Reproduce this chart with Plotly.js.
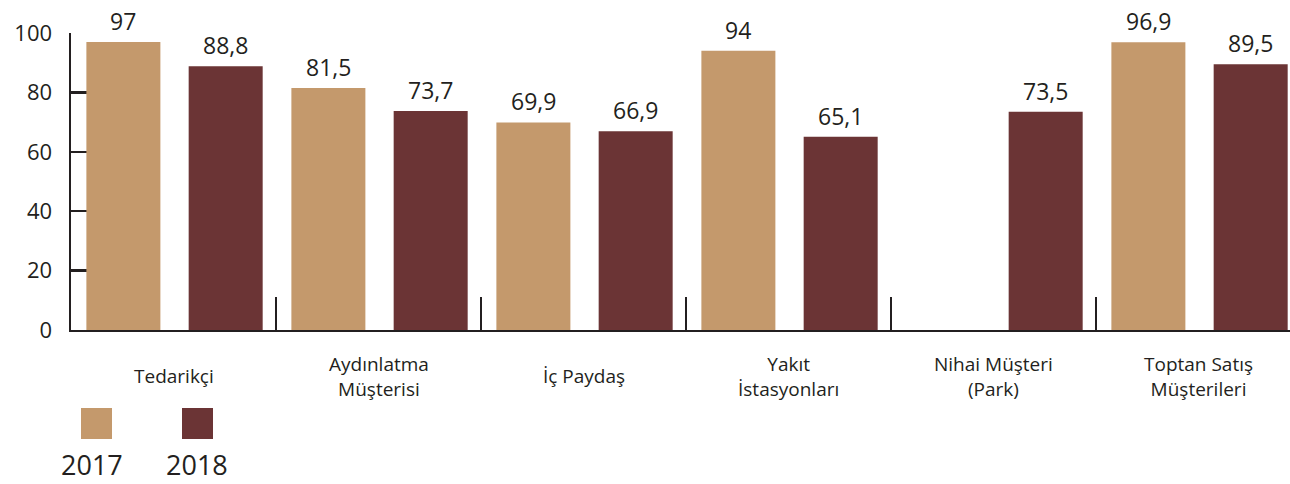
<!DOCTYPE html>
<html>
<head>
<meta charset="utf-8">
<script src="https://cdn.plot.ly/plotly-3.0.1.min.js"></script>
<style>
  html, body { margin: 0; padding: 0; background: #fff; }
  #chart { width: 1290px; height: 484px; }
</style>
</head>
<body>
<div id="chart"></div>
<script>
const categories = ["Tedarikçi", "Aydınlatma<br>Müşterisi", "İç Paydaş", "Yakıt<br>İstasyonları", "Nihai Müşteri<br>(Park)", "Toptan Satış<br>Müşterileri"];
const values2017 = [97, 81.5, 69.9, 94, null, 96.9];
const values2018 = [88.8, 73.7, 66.9, 65.1, 73.5, 89.5];
const seriesNames = ["2017", "2018"];
const yTicks = [0, 20, 40, 60, 80, 100];

const colors = ["#c4996c", "#6b3435"];
const ink = "#231f20";
const barWidth = 0.361;
const offsets = [-0.425, 0.074];

// plot area in pixels: left 71, right 1290, top 33, bottom 330
const L = 71, R = 1290, T = 33, B = 330;
const px = x => (x - L) / (R - L);
const py = y => (B - y) / (B - T);

const fmt = v => String(v).replace(".", ",");

const traces = [values2017, values2018].map((vals, k) => ({
    type: "bar",
    x: categories,
    y: vals,
    name: seriesNames[k],
    width: barWidth,
    offset: offsets[k],
    marker: { color: colors[k] },
    hoverinfo: "skip"
}));

const annotations = [];
[values2017, values2018].forEach((vals, k) => {
    vals.forEach((v, i) => {
        if (v === null) return;
        annotations.push({
            x: i + offsets[k] + barWidth / 2, y: v, xref: "x", yref: "y",
            text: fmt(v), showarrow: false, xanchor: "center", yanchor: "bottom", yshift: 3,
            font: { family: "Open Sans", size: 23, color: ink }
        });
    });
});

// category labels under the axis
categories.forEach((c, i) => {
    annotations.push({
        x: i, y: py(376), xref: "x", yref: "paper",
        text: c, showarrow: false, xanchor: "center", yanchor: "middle",
        font: { family: "Open Sans", size: 19, color: ink }
    });
});

// legend: swatches with year below
const swatchX = [81, 182];
const labelX = [92, 197];
const shapes = [];
seriesNames.forEach((n, k) => {
    shapes.push({
        type: "rect", xref: "paper", yref: "paper",
        x0: px(swatchX[k]), x1: px(swatchX[k] + 31),
        y0: py(439), y1: py(408),
        fillcolor: colors[k], line: { width: 0 }
    });
    annotations.push({
        x: px(labelX[k]), y: py(464), xref: "paper", yref: "paper",
        text: n, showarrow: false, xanchor: "center", yanchor: "middle",
        font: { family: "Open Sans", size: 27, color: ink }
    });
});

const layout = {
    width: 1290, height: 484,
    margin: { l: L, r: 1290 - R, t: T, b: 484 - B },
    paper_bgcolor: "#fff", plot_bgcolor: "#fff",
    showlegend: false,
    barmode: "group",
    xaxis: {
        type: "category",
        range: [-0.5, (R - L) / 205 - 0.5],
        showticklabels: false,
        ticks: "inside", tickson: "boundaries", ticklen: 33, tickwidth: 2, tickcolor: ink,
        showline: true, linecolor: ink, linewidth: 2,
        showgrid: false, zeroline: false,
        layer: "below traces"
    },
    yaxis: {
        range: [0, 100],
        tickvals: yTicks,
        ticks: "inside", ticklen: 28, tickwidth: 2.5, tickcolor: ink,
        ticklabelstandoff: 12,
        tickfont: { family: "Open Sans", size: 22, color: ink },
        showline: true, linecolor: ink, linewidth: 2.5,
        showgrid: false, zeroline: false,
        layer: "below traces"
    },
    annotations: annotations,
    shapes: shapes
};

Plotly.newPlot("chart", traces, layout, { displayModeBar: false, staticPlot: true });
</script>
</body>
</html>
